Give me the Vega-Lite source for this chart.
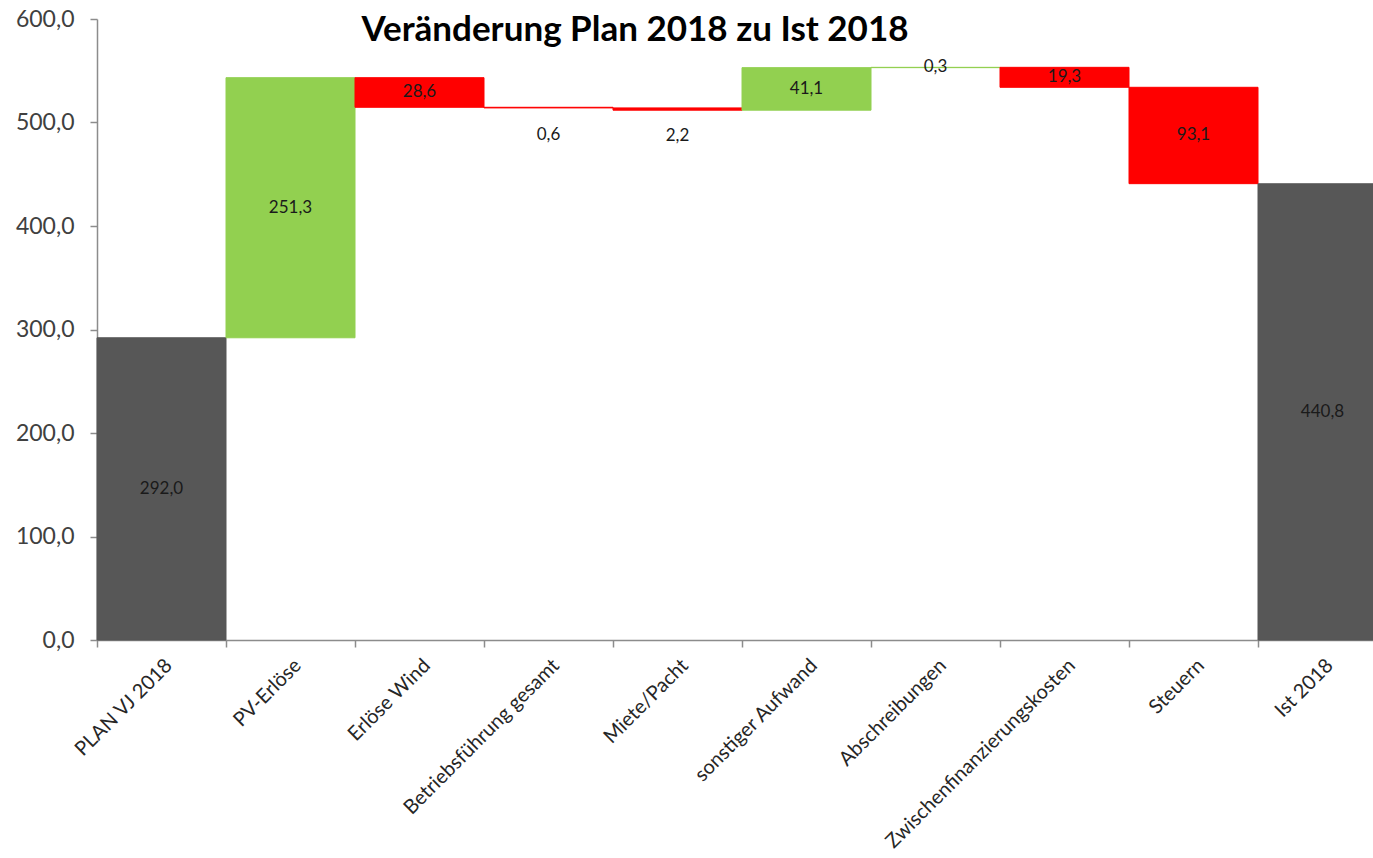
{
  "$schema": "https://vega.github.io/schema/vega-lite/v6.json",
  "autosize": {"type": "none"},
  "width": 1290,
  "height": 621,
  "padding": {"left": 97, "top": 19, "right": 0, "bottom": 218},
  "background": "white",
  "config": {
    "locale": {"number": {"decimal": ",", "thousands": ".", "grouping": [3], "currency": ["", " €"]}},
    "font": "Lato",
    "view": {"stroke": null}
  },
  "title": {
    "text": "Veränderung Plan 2018 zu Ist 2018",
    "font": "Lato",
    "fontSize": 35,
    "fontWeight": "bold",
    "color": "#000000",
    "anchor": "middle",
    "baseline": "alphabetic",
    "offset": -25,
    "dx": -107,
    "dy": 43
  },
  "data": {
    "values": [
      {"kategorie": "PLAN VJ 2018", "start": 0, "ende": 292.0, "betrag": 292.0, "typ": "summe"},
      {"kategorie": "PV-Erlöse", "start": 292.0, "ende": 543.3, "betrag": 251.3, "typ": "plus"},
      {"kategorie": "Erlöse Wind", "start": 543.3, "ende": 514.7, "betrag": 28.6, "typ": "minus"},
      {"kategorie": "Betriebsführung gesamt", "start": 514.7, "ende": 514.1, "betrag": 0.6, "typ": "minus"},
      {"kategorie": "Miete/Pacht", "start": 514.1, "ende": 511.9, "betrag": 2.2, "typ": "minus"},
      {"kategorie": "sonstiger Aufwand", "start": 511.9, "ende": 553.0, "betrag": 41.1, "typ": "plus"},
      {"kategorie": "Abschreibungen", "start": 553.0, "ende": 553.3, "betrag": 0.3, "typ": "plus"},
      {"kategorie": "Zwischenfinanzierungskosten", "start": 553.3, "ende": 534.0, "betrag": 19.3, "typ": "minus"},
      {"kategorie": "Steuern", "start": 534.0, "ende": 440.9, "betrag": 93.1, "typ": "minus"},
      {"kategorie": "Ist 2018", "start": 0, "ende": 440.8, "betrag": 440.8, "typ": "summe"}
    ]
  },
  "transform": [{"calculate": "(datum.start + datum.ende) / 2", "as": "mitte"}],
  "encoding": {
    "x": {
      "field": "kategorie",
      "type": "nominal",
      "sort": null,
      "scale": {"paddingInner": 0, "paddingOuter": 0},
      "axis": {
        "title": null,
        "labelAngle": -45,
        "labelFontSize": 20,
        "labelColor": "#262626",
        "labelPadding": 8,
        "tickBand": "extent",
        "tickSize": 7,
        "tickColor": "#8c8c8c",
        "tickWidth": 1.5,
        "domainColor": "#8c8c8c",
        "domainWidth": 1.5,
        "labelLimit": 400
      }
    }
  },
  "layer": [
    {
      "mark": {"type": "bar", "strokeWidth": 1},
      "encoding": {
        "y": {
          "field": "start",
          "type": "quantitative",
          "scale": {"domain": [0, 600], "nice": false},
          "axis": {
            "title": null,
            "values": [0, 100, 200, 300, 400, 500, 600],
            "format": ".1f",
            "grid": false,
            "labelFontSize": 23,
            "labelColor": "#404040",
            "labelPadding": 16,
            "tickSize": 7,
            "tickColor": "#8c8c8c",
            "tickWidth": 1.5,
            "domainColor": "#8c8c8c",
            "domainWidth": 1.5
          }
        },
        "y2": {"field": "ende"},
        "color": {
          "field": "typ",
          "type": "nominal",
          "scale": {"domain": ["summe", "plus", "minus"], "range": ["#575757", "#92d050", "#ff0000"]},
          "legend": null
        },
        "stroke": {
          "field": "typ",
          "type": "nominal",
          "scale": {"domain": ["summe", "plus", "minus"], "range": ["#575757", "#92d050", "#ff0000"]},
          "legend": null
        }
      }
    },
    {
      "transform": [{"filter": "!(datum.typ == 'minus' && datum.betrag < 5)"}],
      "mark": {"type": "text", "fontSize": 17, "color": "#1a1a1a", "baseline": "middle"},
      "encoding": {
        "y": {"field": "mitte", "type": "quantitative"},
        "text": {"field": "betrag", "type": "quantitative", "format": ".1f"}
      }
    },
    {
      "transform": [{"filter": "datum.typ == 'minus' && datum.betrag < 5"}],
      "mark": {"type": "text", "fontSize": 17, "color": "#1a1a1a", "baseline": "middle", "dy": 27},
      "encoding": {
        "y": {"field": "mitte", "type": "quantitative"},
        "text": {"field": "betrag", "type": "quantitative", "format": ".1f"}
      }
    }
  ]
}
